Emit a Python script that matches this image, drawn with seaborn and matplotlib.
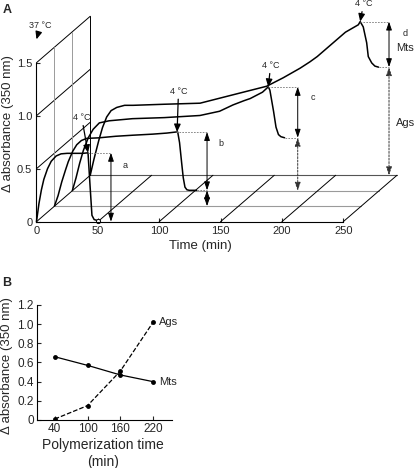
import matplotlib
matplotlib.use("Agg")
import matplotlib.pyplot as plt
import seaborn as sns
import numpy as np

# ---- data ----
# panel A: turbidity traces, one per polymerization time (front -> back)
t_40 = [0, 2, 4, 6, 9, 12, 16, 20, 25, 32, 38, 42, 43.6, 45.2, 47, 50]
v_40 = [0, 0.17, 0.30, 0.40, 0.50, 0.57, 0.62, 0.64, 0.645, 0.645, 0.645, 0.65, 0.35, 0.06, 0.02, 0.01]

t_100 = [0, 3, 6, 9, 11.3, 15, 18.2, 22, 26.3, 36, 50, 64, 80, 91.5, 99, 100.5, 102, 103.7, 105, 106.4, 108, 110, 116]
v_100 = [0, 0.10, 0.23, 0.34, 0.42, 0.52, 0.58, 0.62, 0.64, 0.645, 0.66, 0.67, 0.68, 0.69, 0.70, 0.70, 0.60, 0.41, 0.27, 0.18, 0.155, 0.15, 0.15]

t_160 = [0, 3, 6, 9, 13, 17, 22, 30, 49, 75, 104, 120, 131, 140, 145, 150, 155, 159.7, 161, 162.5, 164, 166, 168, 170, 173]
v_160 = [0, 0.12, 0.26, 0.38, 0.50, 0.58, 0.64, 0.66, 0.68, 0.69, 0.71, 0.75, 0.81, 0.85, 0.87, 0.90, 0.93, 0.98, 0.95, 0.85, 0.75, 0.60, 0.53, 0.51, 0.50]

t_220 = [0, 3, 7, 10, 13.4, 17, 21.6, 28, 35, 60, 89.5, 116.6, 143.8, 157.3, 171, 179, 185, 198, 208, 214, 218.5, 220, 222.5, 225.3, 226.6, 229.4, 232, 235]
v_220 = [0, 0.15, 0.33, 0.45, 0.55, 0.61, 0.64, 0.66, 0.66, 0.67, 0.68, 0.76, 0.84, 0.92, 1.01, 1.07, 1.12, 1.25, 1.35, 1.39, 1.42, 1.45, 1.40, 1.25, 1.12, 1.06, 1.03, 1.02]

# panel B: Mts / Ags vs polymerization time
poly_time = [40, 100, 160, 220]
mts = [0.66, 0.57, 0.47, 0.40]
ags = [0.01, 0.15, 0.51, 1.02]

traces = [(t_40, v_40), (t_100, v_100), (t_160, v_160), (t_220, v_220)]

# ---- style ----
sns.set_style("ticks")
plt.rcParams['font.family'] = ['Liberation Sans', 'DejaVu Sans']

DX, DY = 14.6, 0.146   # pseudo-3D offset per trace (min, abs)

def proj(t, v, k):
    return np.asarray(t, float) + DX * k, np.asarray(v, float) + DY * k

fig = plt.figure(figsize=(4.16, 4.68), dpi=100)
axA = fig.add_axes([0.0877, 0.5263, 0.7374, 0.3397])
axB = fig.add_axes([0.0882, 0.1026, 0.3245, 0.2457])

# ================= panel A =================
axA.set_xlim(0, 250)
axA.set_ylim(0, 1.5)
sns.despine(ax=axA)
for s in ['left', 'bottom']:
    axA.spines[s].set_linewidth(0.8)
    axA.spines[s].set_color('black')

# floor
for k, col in [(1, '#9a9a9a'), (2, '#9a9a9a'), (3, '#555555')]:
    x, y = proj([0, 250], [0, 0], k)
    axA.plot(x, y, color=col, lw=0.8, clip_on=False)
for t in [0, 50, 100, 150, 200, 250]:
    x, y = proj([t, t], [0, 0], 0)
    x2, y2 = proj([t, t], [0, 0], 3)
    axA.plot([x[0], x2[0]], [y[0], y2[0]], color='black', lw=0.7, clip_on=False)
# back wall
for v in [0.5, 1.0, 1.5]:
    x, y = proj([0, 0], [v, v], 0)
    x2, y2 = proj([0, 0], [v, v], 3)
    axA.plot([x[0], x2[0]], [y[0], y2[0]], color='black', lw=0.7, clip_on=False)
for k, col in [(1, '#9a9a9a'), (2, '#9a9a9a'), (3, 'black')]:
    x, y = proj([0, 0], [0, 1.5], k)
    axA.plot(x, y, color=col, lw=0.7, clip_on=False)

# traces
for k, (t, v) in enumerate(traces):
    x, y = proj(t, v, k)
    sns.lineplot(x=x, y=y, ax=axA, color='black', lw=1.1, sort=False, estimator=None)
for ln in axA.lines:
    ln.set_clip_on(False)

guide = dict(color='#777777', lw=0.6, ls=(0, (2, 1.5)), clip_on=False)

def darrow(t, v1, v2, k, ls='-', col='black'):
    x1, y1 = proj(t, v1, k)
    x2, y2 = proj(t, v2, k)
    axA.annotate('', xy=(x1, y1), xytext=(x2, y2), annotation_clip=False,
                 arrowprops=dict(arrowstyle='<|-|>,head_length=0.5,head_width=0.17',
                                 lw=0.7, ls=ls, color=col, shrinkA=0, shrinkB=0))

def hguide(t1, t2, v, k):
    x, y = proj([t1, t2], [v, v], k)
    axA.plot(x, y, **guide)

def label(t, v, k, s, size=6.5):
    x, y = proj(t, v, k)
    axA.text(x, y, s, fontsize=size, ha='center', va='center', clip_on=False)

# a
hguide(42, 60.7, 0.65, 0)
darrow(60.7, 0.65, 0, 0)
label(72, 0.53, 0, 'a')
axA.plot(*proj(50, 0.005, 0), 'o', mfc='white', mec='black', ms=3, mew=0.7, clip_on=False)
# b
hguide(99, 124.4, 0.70, 1)
hguide(116, 124.4, 0.15, 1)
darrow(124.4, 0.70, 0.15, 1)
darrow(124.4, 0.15, 0, 1)
label(136, 0.59, 1, 'b')
# c
hguide(159.7, 183.7, 0.98, 2)
hguide(173, 183.7, 0.50, 2)
darrow(183.7, 0.98, 0.50, 2)
darrow(183.7, 0.50, 0, 2, ls=(0, (2, 1.5)), col='#333333')
label(196, 0.88, 2, 'c')
# d
hguide(220, 243.5, 1.45, 3)
hguide(235, 243.5, 1.02, 3)
darrow(243.5, 1.45, 1.02, 3)
darrow(243.5, 1.02, 0, 3, ls=(0, (2, 1.5)), col='#333333')
label(257, 1.34, 3, 'd')
x, y = proj(249, 1.20, 3)
axA.text(x, y, 'Mts', fontsize=8, ha='left', va='center', clip_on=False)
x, y = proj(249, 0.49, 3)
axA.text(x, y, 'Ags', fontsize=8, ha='left', va='center', clip_on=False)

# 4 °C arrows
cold = [(42, 0.65, 0, (-4.5, 22)), (100, 0.70, 1, (1, 26)),
        (159.7, 0.98, 2, (1.7, 12)), (220, 1.45, 3, (2.4, 9.5))]
for t, v, k, off in cold:
    x, y = proj(t, v, k)
    axA.annotate('4 °C', xy=(x, y), xytext=off, textcoords='offset points',
                 ha='center', va='bottom', fontsize=6.5, annotation_clip=False,
                 arrowprops=dict(arrowstyle='-|>,head_length=0.7,head_width=0.3',
                                 lw=0.9, color='black', shrinkA=0, shrinkB=0))
axA.annotate('37 °C', xy=(0, 1.72), xytext=(3, 7), textcoords='offset points',
             ha='center', va='bottom', fontsize=6.5, annotation_clip=False,
             arrowprops=dict(arrowstyle='-|>,head_length=0.7,head_width=0.3',
                             lw=0.9, color='black', shrinkA=0, shrinkB=0))

axA.set_xticks([0, 50, 100, 150, 200, 250])
axA.set_yticks([0, 0.5, 1.0, 1.5])
axA.set_yticklabels(['0', '0.5', '1.0', '1.5'])
axA.tick_params(direction='in', length=3, width=0.8, labelsize=8, pad=3)
axA.set_xlabel('Time (min)', fontsize=9.5)
axA.set_ylabel('Δ absorbance (350 nm)', fontsize=9.5)
axA.xaxis.set_label_coords(0.533, -0.115)
axA.yaxis.set_label_coords(-0.073, 0.62)

# ================= panel B =================
sns.lineplot(x=poly_time, y=mts, ax=axB, color='black', lw=0.9, marker='o',
             markersize=3.5, markeredgewidth=0)
sns.lineplot(x=poly_time, y=ags, ax=axB, color='black', lw=0.9, marker='o',
             markersize=3.5, markeredgewidth=0, linestyle='--')
axB.set_xlim(7, 254)
axB.set_ylim(0, 1.2)
axB.set_xticks(poly_time)
axB.set_yticks([0, 0.2, 0.4, 0.6, 0.8, 1.0, 1.2])
axB.set_yticklabels(['0', '0.2', '0.4', '0.6', '0.8', '1.0', '1.2'])
sns.despine(ax=axB)
for s in ['left', 'bottom']:
    axB.spines[s].set_linewidth(0.8)
    axB.spines[s].set_color('black')
axB.tick_params(direction='in', length=3, width=0.8, labelsize=8.5, pad=2)
axB.annotate('Ags', xy=(poly_time[-1], ags[-1]), xytext=(4, 0), textcoords='offset points',
             ha='left', va='center', fontsize=8)
axB.annotate('Mts', xy=(poly_time[-1], mts[-1]), xytext=(4, 0), textcoords='offset points',
             ha='left', va='center', fontsize=8)
axB.set_xlabel('Polymerization time\n(min)', fontsize=10, linespacing=1.25)
axB.set_ylabel('Δ absorbance (350 nm)', fontsize=9.5)
axB.xaxis.set_label_coords(0.493, -0.155)
axB.yaxis.set_label_coords(-0.176, 0.47)

fig.text(0.006, 0.992, 'A', fontsize=9, weight='bold', va='top', ha='left')
fig.text(0.006, 1 - 277 / 468, 'B', fontsize=9, weight='bold', va='top', ha='left')

fig.savefig('out.png', dpi=100)
